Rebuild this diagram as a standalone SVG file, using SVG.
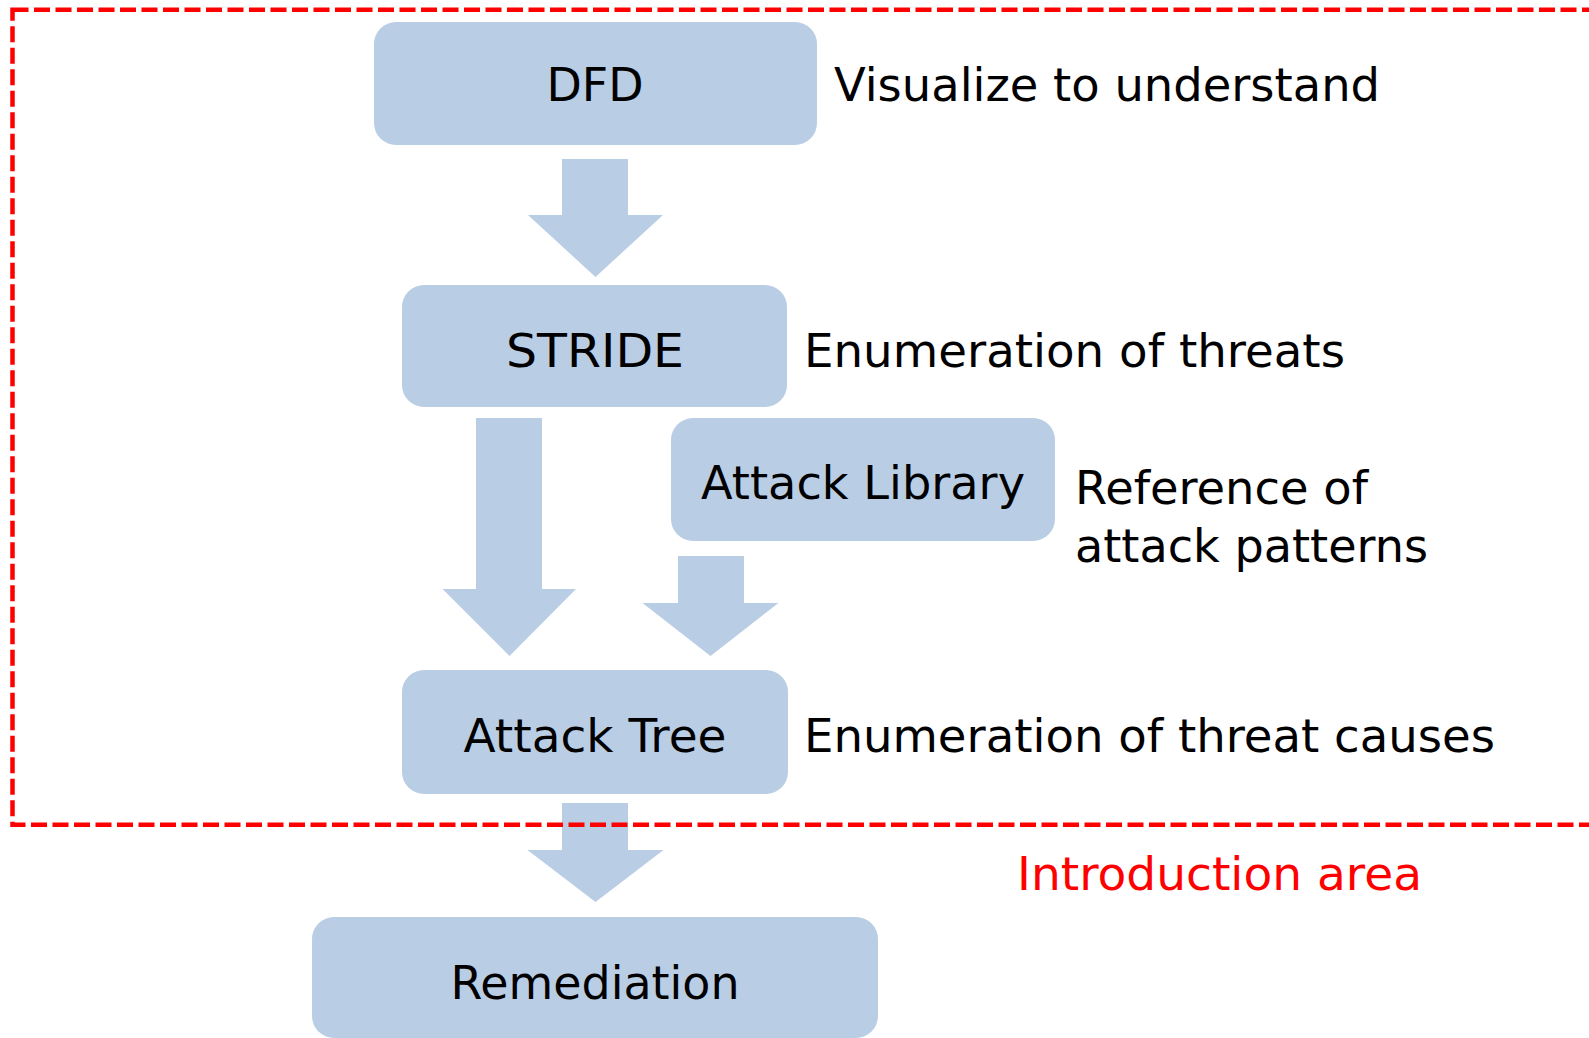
<svg xmlns="http://www.w3.org/2000/svg" width="1589" height="1038" viewBox="0 0 1589 1038">
<style>
.box{fill:#B9CDE5;}
.arr{fill:#B9CDE5;}
.t{font-family:"DejaVu Sans","Liberation Sans",sans-serif;font-size:46.5px;fill:#000;}
.c{text-anchor:middle;}
.red{fill:#FF0000;}
.zone{fill:none;stroke:#FF0000;stroke-width:4.5;stroke-dasharray:16 5.5;}
</style>
<rect width="1589" height="1038" fill="#FFFFFF"/>
<g id="connectors">
<polygon class="arr" points="562,159 628,159 628,215 663,215 595.5,277 528,215 562,215"/>
<polygon class="arr" points="476,418 542,418 542,589 576,589 509.5,656 442.5,589 476,589"/>
<polygon class="arr" points="678,556 744,556 744,603 778.5,603 710.5,656 642.5,603 678,603"/>
<polygon class="arr" points="562,803 628,803 628,850 663.5,850 595.5,902 527.5,850 562,850"/>
</g>
<g id="node-dfd">
<rect class="box" x="374" y="22" width="443" height="123" rx="22"/>
<text class="t c" x="595" y="101" textLength="97" lengthAdjust="spacingAndGlyphs">DFD</text>
</g>
<g id="label-dfd">
<text class="t" x="834" y="101" textLength="546" lengthAdjust="spacingAndGlyphs">Visualize to understand</text>
</g>
<g id="node-stride">
<rect class="box" x="402" y="285" width="385" height="122" rx="22"/>
<text class="t c" x="595" y="367" textLength="178" lengthAdjust="spacingAndGlyphs">STRIDE</text>
</g>
<g id="label-stride">
<text class="t" x="804" y="367" textLength="541" lengthAdjust="spacingAndGlyphs">Enumeration of threats</text>
</g>
<g id="node-attack-library">
<rect class="box" x="671" y="418" width="384" height="123" rx="22"/>
<text class="t c" x="863" y="499" textLength="324" lengthAdjust="spacingAndGlyphs">Attack Library</text>
</g>
<g id="label-attack-library">
<text class="t" x="1075" y="504" textLength="293" lengthAdjust="spacingAndGlyphs">Reference of</text>
<text class="t" x="1075" y="562" textLength="353" lengthAdjust="spacingAndGlyphs">attack patterns</text>
</g>
<g id="node-attack-tree">
<rect class="box" x="402" y="670" width="386" height="124" rx="22"/>
<text class="t c" x="595" y="752" textLength="263" lengthAdjust="spacingAndGlyphs">Attack Tree</text>
</g>
<g id="label-attack-tree">
<text class="t" x="804" y="752" textLength="691" lengthAdjust="spacingAndGlyphs">Enumeration of threat causes</text>
</g>
<g id="node-remediation">
<rect class="box" x="312" y="917" width="566" height="121" rx="22"/>
<text class="t c" x="595" y="999" textLength="289" lengthAdjust="spacingAndGlyphs">Remediation</text>
</g>
<g id="introduction-area">
<rect class="zone" x="12.5" y="9.7" width="1620" height="815"/>
<text class="t red" x="1017" y="890" textLength="405" lengthAdjust="spacingAndGlyphs">Introduction area</text>
</g>
</svg>
